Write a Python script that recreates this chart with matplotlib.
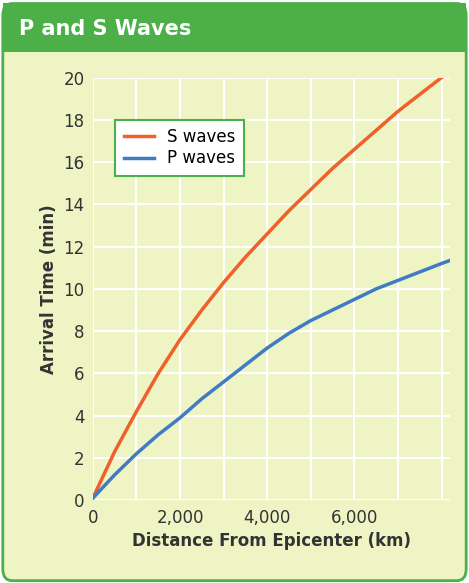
import numpy as np
import matplotlib.pyplot as plt
from matplotlib.patches import FancyBboxPatch, Rectangle

distance = [0, 500, 1000, 1500, 2000, 2500, 3000, 3500, 4000, 4500, 5000,
            5500, 6000, 6500, 7000, 7500, 8000, 8200]
s_time = [0.1, 2.3, 4.2, 6.0, 7.6, 9.0, 10.3, 11.5, 12.6, 13.7, 14.7,
          15.7, 16.6, 17.5, 18.4, 19.2, 20.0, 20.2]
p_time = [0.1, 1.2, 2.2, 3.1, 3.9, 4.8, 5.6, 6.4, 7.2, 7.9, 8.5,
          9.0, 9.5, 10.0, 10.4, 10.8, 11.2, 11.35]
x_ticks = [0, 2000, 4000, 6000]
y_ticks = list(range(0, 21, 2))

bg = '#eef4c4'
green = '#4caf48'

fig = plt.figure(figsize=(4.69, 5.83), dpi=100)
fig.patch.set_facecolor('white')
fig.patches.append(FancyBboxPatch((0.006, 0.004), 0.988, 0.99, boxstyle='round,pad=0,rounding_size=0.02',
                                  transform=fig.transFigure, facecolor=bg, edgecolor=green, lw=2, zorder=-2))
fig.patches.append(Rectangle((0.006, 0.91), 0.988, 0.084, transform=fig.transFigure,
                             facecolor=green, edgecolor='none', zorder=-1))
fig.text(0.04, 0.95, 'P and S Waves', color='white', fontsize=15, fontweight='bold', va='center')

ax = fig.add_axes([0.198, 0.142, 0.762, 0.725])
ax.set_facecolor(bg)
ax.plot(distance, s_time, color='#f0602a', lw=2.5, label='S waves')
ax.plot(distance, p_time, color='#3f7cc4', lw=2.5, label='P waves')
ax.set_xlim(0, 8200)
ax.set_ylim(0, 20)
ax.set_xticks(np.arange(0, 8001, 1000), minor=True)
ax.set_xticks(x_ticks)
ax.set_xticklabels([f'{v:,}' for v in x_ticks])
ax.set_yticks(y_ticks)
ax.grid(True, which='both', color='white', lw=1.5)
ax.set_axisbelow(True)
for s in ax.spines.values():
    s.set_visible(False)
ax.tick_params(which='both', length=0, labelsize=12, colors='#333333', pad=6)
ax.set_xlabel('Distance From Epicenter (km)', fontsize=12, fontweight='bold', color='#333333')
ax.set_ylabel('Arrival Time (min)', fontsize=12, fontweight='bold', color='#333333')
leg = ax.legend(loc='upper left', bbox_to_anchor=(0.04, 0.92), fontsize=12, frameon=True,
                fancybox=False, handlelength=1.8, labelspacing=0.2, borderpad=0.5)
leg.get_frame().set_edgecolor(green)
leg.get_frame().set_linewidth(1.5)
leg.get_frame().set_alpha(1)

fig.savefig('out.png', dpi=100)
